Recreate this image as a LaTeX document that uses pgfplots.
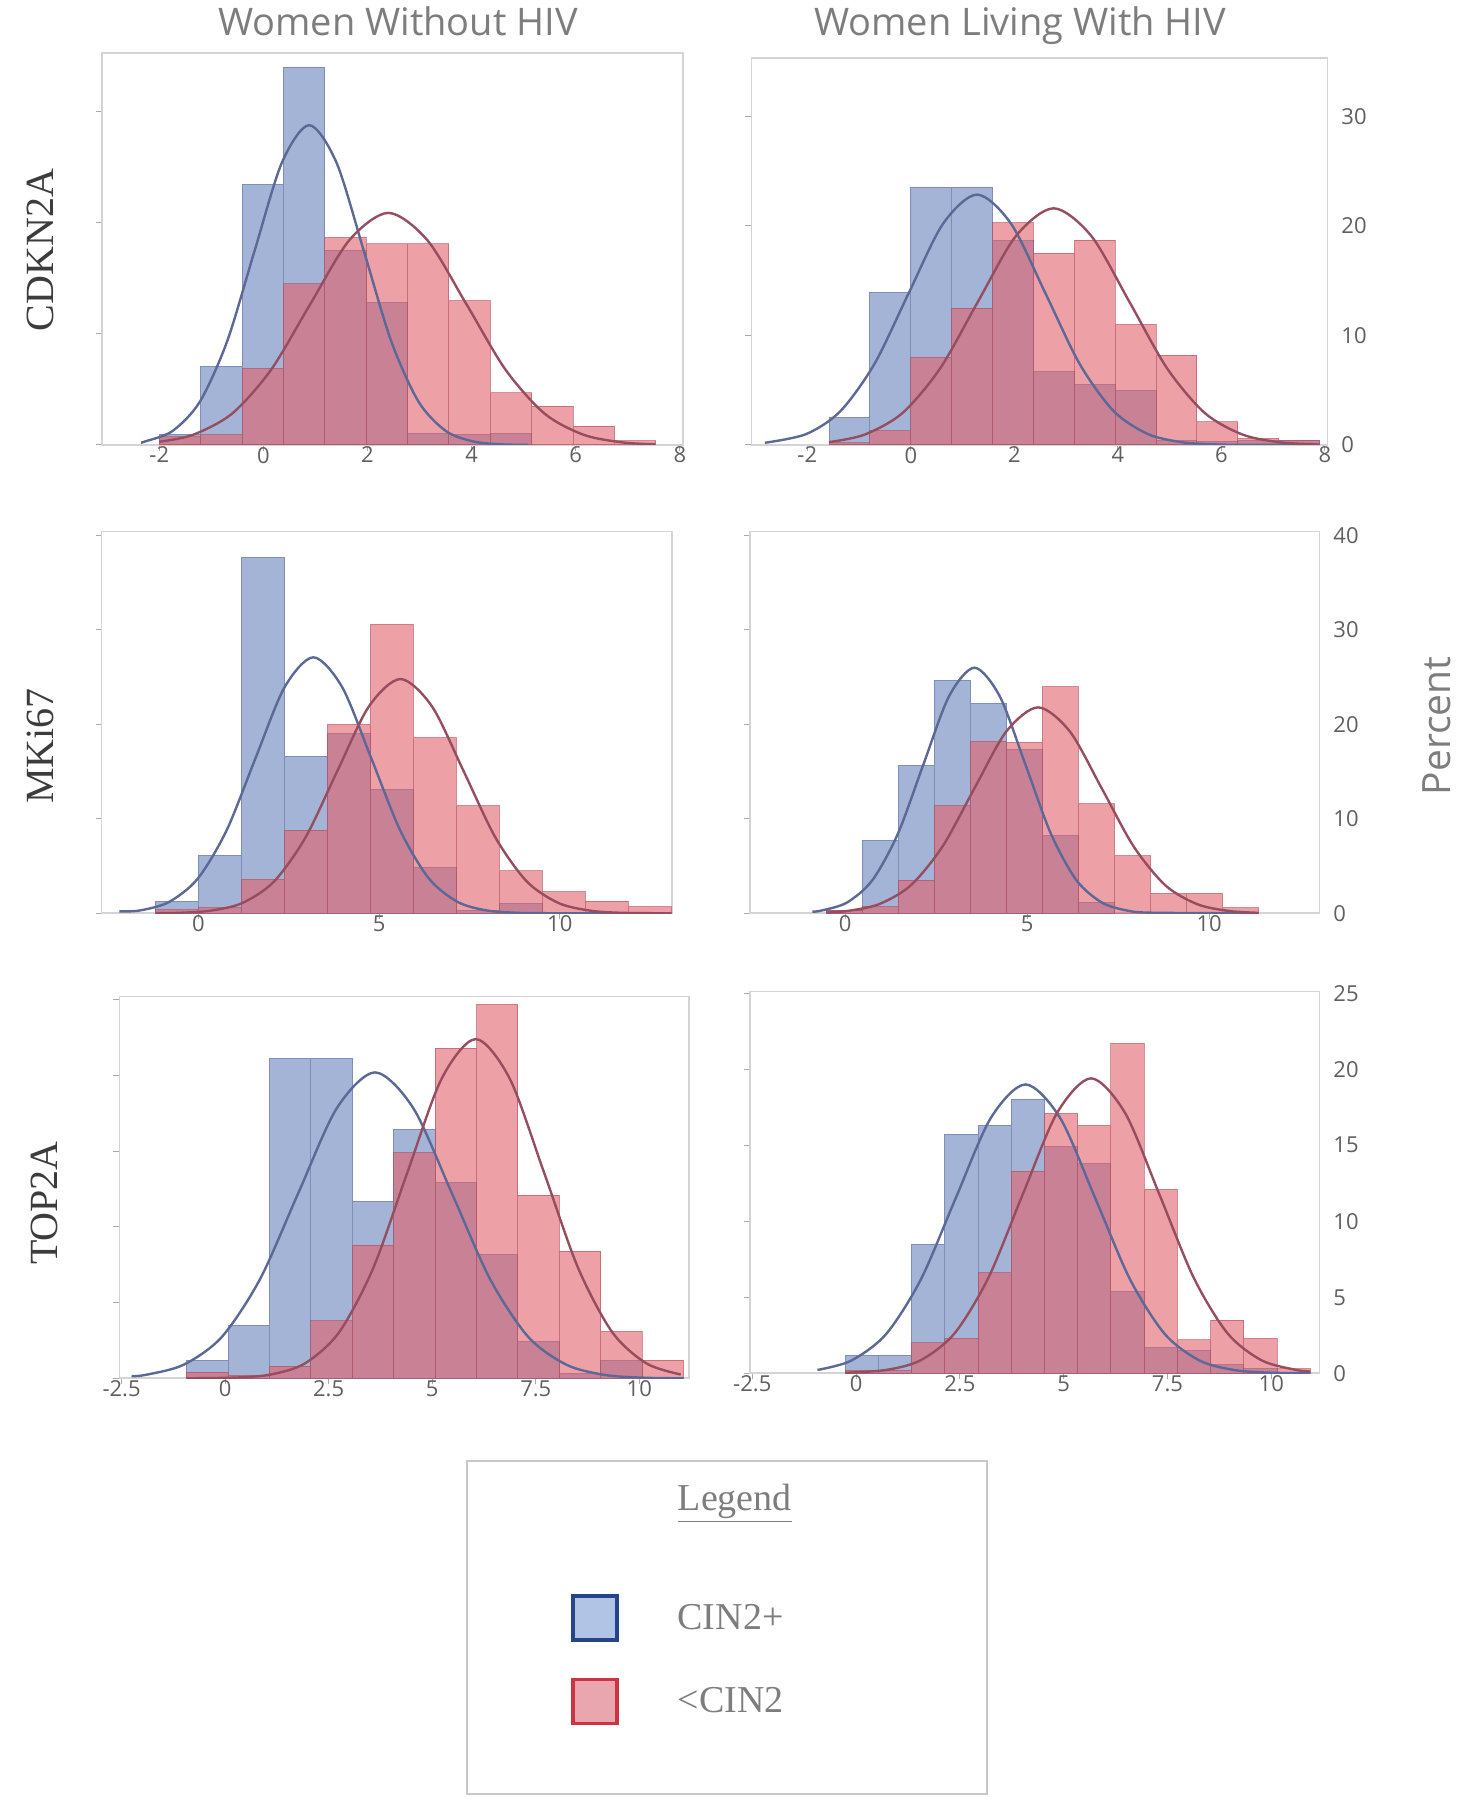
\documentclass[border=0pt]{standalone}
\usepackage{pgfplots}
\pgfplotsset{compat=1.18}
\usepackage{fontspec}
\setmainfont{Liberation Serif}
\newfontfamily\sansf{Open Sans}

\definecolor{barblue}{RGB}{164,180,214}
\definecolor{barblueedge}{RGB}{125,142,185}
\definecolor{barred}{RGB}{226,96,108}
\definecolor{barrededge}{RGB}{175,70,85}
\definecolor{curveblue}{RGB}{92,104,150}
\definecolor{curvered}{RGB}{150,78,95}
\definecolor{framegray}{RGB}{212,212,212}
\definecolor{labelgray}{RGB}{95,95,95}
\definecolor{titlegray}{RGB}{125,125,125}
\definecolor{rowgray}{RGB}{60,60,60}
\definecolor{leggray}{RGB}{125,125,125}
\definecolor{legframe}{RGB}{200,200,200}
\definecolor{legbluefill}{RGB}{178,196,230}
\definecolor{legblueedge}{RGB}{38,68,138}
\definecolor{legredfill}{RGB}{234,166,174}
\definecolor{legrededge}{RGB}{204,52,66}

\pgfplotsset{
  hist/.style={
    scale only axis,
    anchor=south west,
    axis line style={draw=framegray, line width=0.8pt},
    tick style={draw=framegray!80!black, line width=0.5pt},
    major tick length=3pt,
    tick align=outside,
    xtick pos=left,
    ytick pos=left,
    ticklabel style={font=\sansf\fontsize{11}{13}\selectfont, text=labelgray},
    xticklabel style={yshift=5.5pt},
    /pgf/number format/assume math mode=true,
    ymin=0,
  },
  leftp/.style={hist, yticklabels={}},
  rightp/.style={hist, yticklabel pos=right, yticklabel style={xshift=0.5pt}},
  bluebar/.style={ybar interval, fill=barblue, draw=barblueedge, line width=0.5pt},
  redbar/.style={ybar interval, fill=barred, fill opacity=0.6, draw=barrededge, draw opacity=0.55, line width=0.5pt},
  bluecurve/.style={smooth, draw=curveblue, line width=1.2pt},
  redcurve/.style={smooth, draw=curvered, line width=1.2pt},
}

\begin{document}
\begin{tikzpicture}
\useasboundingbox (0pt,0pt) rectangle (732pt,900pt);

% column titles
\node[anchor=base, font=\sansf\fontsize{19}{22}\selectfont, text=titlegray] at (199pt,882pt) {Women Without HIV};
\node[anchor=base, font=\sansf\fontsize{19}{22}\selectfont, text=titlegray] at (510pt,882pt) {Women Living With HIV};
% row labels
\node[rotate=90, font=\fontsize{20}{24}\selectfont, text=rowgray] at (20pt,775pt) {CDKN2A};
\node[rotate=90, font=\fontsize{20}{24}\selectfont, text=rowgray] at (20pt,527pt) {MKi67};
\node[rotate=90, font=\fontsize{20}{24}\selectfont, text=rowgray] at (22pt,298.5pt) {TOP2A};
% right label
\node[rotate=90, font=\sansf\fontsize{19.5}{22}\selectfont, text=titlegray] at (718.5pt,537pt) {Percent};

% ===== Row 1 left: CDKN2A, without HIV
\begin{axis}[leftp, at={(51pt,677.5pt)}, width=290.5pt, height=196pt,
  xmin=-3.1, xmax=8.06, ymax=35.3, xtick={-2,0,2,4,6,8}, ytick={0,10,20,30}]
\addplot[bluebar] coordinates {(-2.0,0.9) (-1.205,7.1) (-0.41,23.5) (0.385,34.0) (1.18,17.5) (1.975,12.8) (2.77,1.0) (3.565,0.9) (4.36,1.0) (5.155,0)};
\addplot[redbar] coordinates {(-2.0,0.75) (-1.205,0.9) (-0.41,6.9) (0.385,14.5) (1.18,18.7) (1.975,18.1) (2.77,18.1) (3.565,13.0) (4.36,4.7) (5.155,3.5) (5.95,1.7) (6.745,0.4) (7.54,0)};
\addplot[bluecurve] coordinates {(-2.35,0.22) (-2.27,0.32) (-1.745,1.26) (-1.22,3.90) (-0.695,9.35) (-0.17,17.47) (0.355,25.42) (0.88,28.8) (1.405,25.42) (1.93,17.47) (2.455,9.35) (2.98,3.90) (3.505,1.26) (4.03,0.32) (4.555,0.06) (5.08,0.01)};
\addplot[redcurve] coordinates {(-2.0,0.29) (-1.35,0.92) (-0.6,2.83) (0.15,6.79) (0.9,12.68) (1.65,18.44) (2.4,20.9) (3.15,18.44) (3.9,12.68) (4.65,6.79) (5.4,2.83) (6.15,0.92) (6.9,0.23) (7.53,0.06)};
\end{axis}

% ===== Row 1 right: CDKN2A, with HIV
\begin{axis}[rightp, at={(375.7pt,677.5pt)}, width=288pt, height=193.4pt,
  xmin=-3.08, xmax=8.05, ymax=35.3, xtick={-2,0,2,4,6,8}, ytick={0,10,20,30}]
\addplot[bluebar] coordinates {(-1.58,2.5) (-0.79,13.95) (0.0,23.5) (0.79,23.5) (1.58,18.7) (2.37,6.7) (3.16,5.5) (3.95,5.0) (4.74,0.4) (5.53,0.3) (6.32,0.4) (7.11,0.4) (7.90,0)};
\addplot[redbar] coordinates {(-1.58,0.2) (-0.79,1.3) (0.0,8.0) (0.79,12.5) (1.58,20.3) (2.37,17.5) (3.16,18.7) (3.95,11.0) (4.74,8.2) (5.53,2.1) (6.32,0.6) (7.11,0.4) (7.90,0)};
\addplot[bluecurve] coordinates {(-2.82,0.2) (-2.02,1.00) (-1.36,3.09) (-0.70,7.42) (-0.04,13.86) (0.62,20.17) (1.28,22.85) (1.94,20.17) (2.60,13.86) (3.26,7.42) (3.92,3.09) (4.58,1.00) (5.24,0.25) (5.90,0.05) (6.56,0.01) (7.90,0)};
\addplot[redcurve] coordinates {(-1.58,0.26) (-0.89,0.95) (-0.16,2.92) (0.57,7.01) (1.30,13.10) (2.03,19.06) (2.76,21.6) (3.49,19.06) (4.22,13.10) (4.95,7.01) (5.68,2.92) (6.41,0.95) (7.14,0.24) (7.90,0.04)};
\end{axis}

% ===== Row 2 left: MKi67, without HIV
\begin{axis}[leftp, at={(50.85pt,443.35pt)}, width=285.2pt, height=190.8pt,
  xmin=-2.68, xmax=13.11, ymax=40.4, xtick={0,5,10}, ytick={0,10,20,30,40}]
\addplot[bluebar] coordinates {(-1.19,1.3) (0,6.1) (1.19,37.7) (2.38,16.6) (3.57,19.0) (4.76,13.1) (5.95,4.9) (7.14,0.3) (8.33,1.0) (9.52,0)};
\addplot[redbar] coordinates {(-1.19,0.4) (0,0.6) (1.19,3.6) (2.38,8.8) (3.57,20.0) (4.76,30.6) (5.95,18.6) (7.14,11.4) (8.33,4.5) (9.52,2.3) (10.71,1.3) (11.90,0.7) (13.09,0)};
\addplot[bluecurve] coordinates {(-2.19,0.2) (-1.62,0.30) (-0.82,1.19) (-0.02,3.67) (0.78,8.80) (1.58,16.44) (2.38,23.92) (3.18,27.1) (3.98,23.92) (4.78,16.44) (5.58,8.80) (6.38,3.67) (7.18,1.19) (7.98,0.30) (8.78,0.06) (9.58,0.01) (13.09,0)};
\addplot[redcurve] coordinates {(-1.19,0.01) (-0.535,0.05) (0.34,0.28) (1.215,1.09) (2.09,3.36) (2.965,8.05) (3.84,15.04) (4.715,21.89) (5.59,24.8) (6.465,21.89) (7.34,15.04) (8.215,8.05) (9.09,3.36) (9.965,1.09) (10.84,0.28) (11.715,0.05) (13.09,0)};
\end{axis}

% ===== Row 2 right: MKi67, with HIV
\begin{axis}[rightp, at={(375.1pt,443.35pt)}, width=284.6pt, height=190.8pt,
  xmin=-2.61, xmax=13.03, ymax=40.4, xtick={0,5,10}, ytick={0,10,20,30,40}]
\addplot[bluebar] coordinates {(-0.52,0.3) (0.47,7.7) (1.46,15.6) (2.45,24.6) (3.44,22.2) (4.43,17.3) (5.42,8.2) (6.41,1.1) (7.40,0)};
\addplot[redbar] coordinates {(-0.52,0.3) (0.47,0.7) (1.46,3.5) (2.45,11.4) (3.44,18.2) (4.43,18.1) (5.42,24.0) (6.41,11.6) (7.40,6.1) (8.39,2.1) (9.38,2.1) (10.37,0.6) (11.36,0)};
\addplot[bluecurve] coordinates {(-0.9,0.17) (-0.65,0.29) (0.05,1.14) (0.75,3.52) (1.45,8.44) (2.15,15.77) (2.85,22.95) (3.55,26.0) (4.25,22.95) (4.95,15.77) (5.65,8.44) (6.35,3.52) (7.05,1.14) (7.75,0.29) (8.45,0.06) (11.36,0)};
\addplot[redcurve] coordinates {(-0.52,0.08) (0.05,0.24) (0.925,0.96) (1.80,2.95) (2.675,7.08) (3.55,13.22) (4.425,19.24) (5.30,21.8) (6.175,19.24) (7.05,13.22) (7.925,7.08) (8.80,2.95) (9.675,0.96) (10.55,0.24) (11.36,0.05)};
\end{axis}

% ===== Row 3 left: TOP2A, without HIV
\begin{axis}[leftp, at={(59.75pt,210.85pt)}, width=284.75pt, height=190.8pt,
  xmin=-2.55, xmax=11.2, ymax=25.2, xtick={-2.5,0,2.5,5,7.5,10}, ytick={0,5,10,15,20,25}]
\addplot[bluebar] coordinates {(-0.93,1.2) (0.07,3.5) (1.07,21.1) (2.07,21.1) (3.07,11.7) (4.07,16.4) (5.07,12.9) (6.07,8.2) (7.07,2.4) (8.07,0.3) (9.07,1.2) (10.07,0)};
\addplot[redbar] coordinates {(-0.93,0.4) (0.07,0.2) (1.07,0.8) (2.07,3.8) (3.07,8.8) (4.07,14.9) (5.07,21.8) (6.07,24.7) (7.07,12.1) (8.07,8.4) (9.07,3.1) (10.07,1.2) (11.07,0)};
\addplot[bluecurve] coordinates {(-2.26,0.15) (-1.93,0.22) (-1.005,0.89) (-0.08,2.73) (0.845,6.56) (1.77,12.25) (2.695,17.83) (3.62,20.2) (4.545,17.83) (5.47,12.25) (6.395,6.56) (7.32,2.73) (8.245,0.89) (9.17,0.22) (10.095,0.04) (11.07,0)};
\addplot[redcurve] coordinates {(-0.93,0.0) (0.275,0.05) (1.10,0.25) (1.925,0.98) (2.75,3.03) (3.575,7.27) (4.40,13.59) (5.225,19.77) (6.05,22.4) (6.875,19.77) (7.70,13.59) (8.525,7.27) (9.35,3.03) (10.175,0.98) (11.0,0.25)};
\end{axis}

% ===== Row 3 right: TOP2A, with HIV
\begin{axis}[rightp, at={(375.1pt,213.35pt)}, width=284.6pt, height=190.8pt,
  xmin=-2.55, xmax=11.16, ymax=25.1, xtick={-2.5,0,2.5,5,7.5,10}, ytick={0,5,10,15,20,25}]
\addplot[bluebar] coordinates {(-0.26,1.2) (0.54,1.2) (1.34,8.5) (2.14,15.7) (2.94,16.3) (3.74,18.0) (4.54,14.9) (5.34,13.8) (6.14,5.4) (6.94,1.7) (7.74,1.5) (8.54,0.6) (9.34,0.3) (10.14,0)};
\addplot[redbar] coordinates {(-0.26,0.2) (0.54,0.2) (1.34,2.0) (2.14,2.3) (2.94,6.6) (3.74,13.3) (4.54,17.1) (5.34,16.3) (6.14,21.7) (6.94,12.1) (7.74,2.2) (8.54,3.5) (9.34,2.3) (10.14,0.3) (10.94,0)};
\addplot[bluecurve] coordinates {(-0.93,0.22) (-0.12,0.83) (0.72,2.57) (1.56,6.17) (2.40,11.52) (3.24,16.77) (4.08,19.0) (4.92,16.77) (5.76,11.52) (6.60,6.17) (7.44,2.57) (8.28,0.83) (9.12,0.21) (9.96,0.04) (10.94,0)};
\addplot[redcurve] coordinates {(-0.26,0.03) (0.725,0.22) (1.55,0.85) (2.37,2.62) (3.19,6.30) (4.015,11.77) (4.84,17.12) (5.66,19.4) (6.48,17.12) (7.305,11.77) (8.13,6.30) (8.95,2.62) (9.77,0.85) (10.60,0.22) (10.94,0.12)};
\end{axis}

% ===== Legend
\begin{axis}[at={(233.5pt,3pt)}, anchor=south west, scale only axis,
  width=260pt, height=166.5pt, xmin=0, xmax=1, ymin=0, ymax=1,
  xtick=\empty, ytick=\empty,
  axis line style={draw=legframe, line width=1.3pt},
  title={\underline{Legend}},
  title style={at={(0.515,0.837)}, anchor=center, font=\fontsize{19}{22}\selectfont, text=leggray},
  legend style={draw=none, fill=none, at={(0.2,0.6006)}, anchor=north west,
    inner sep=0pt, row sep=18pt, font=\fontsize{19}{22}\selectfont, text=leggray,
    /tikz/every odd column/.style={column sep=27.5pt}},
  legend cell align=left,
  legend image code/.code={\draw[#1] (0pt,-11pt) rectangle (22pt,11pt);}]
\addlegendimage{fill=legbluefill, draw=legblueedge, line width=1.6pt}
\addlegendentry{CIN2+}
\addlegendimage{fill=legredfill, draw=legrededge, line width=1.6pt}
\addlegendentry{<CIN2}
\end{axis}
\end{tikzpicture}
\end{document}
